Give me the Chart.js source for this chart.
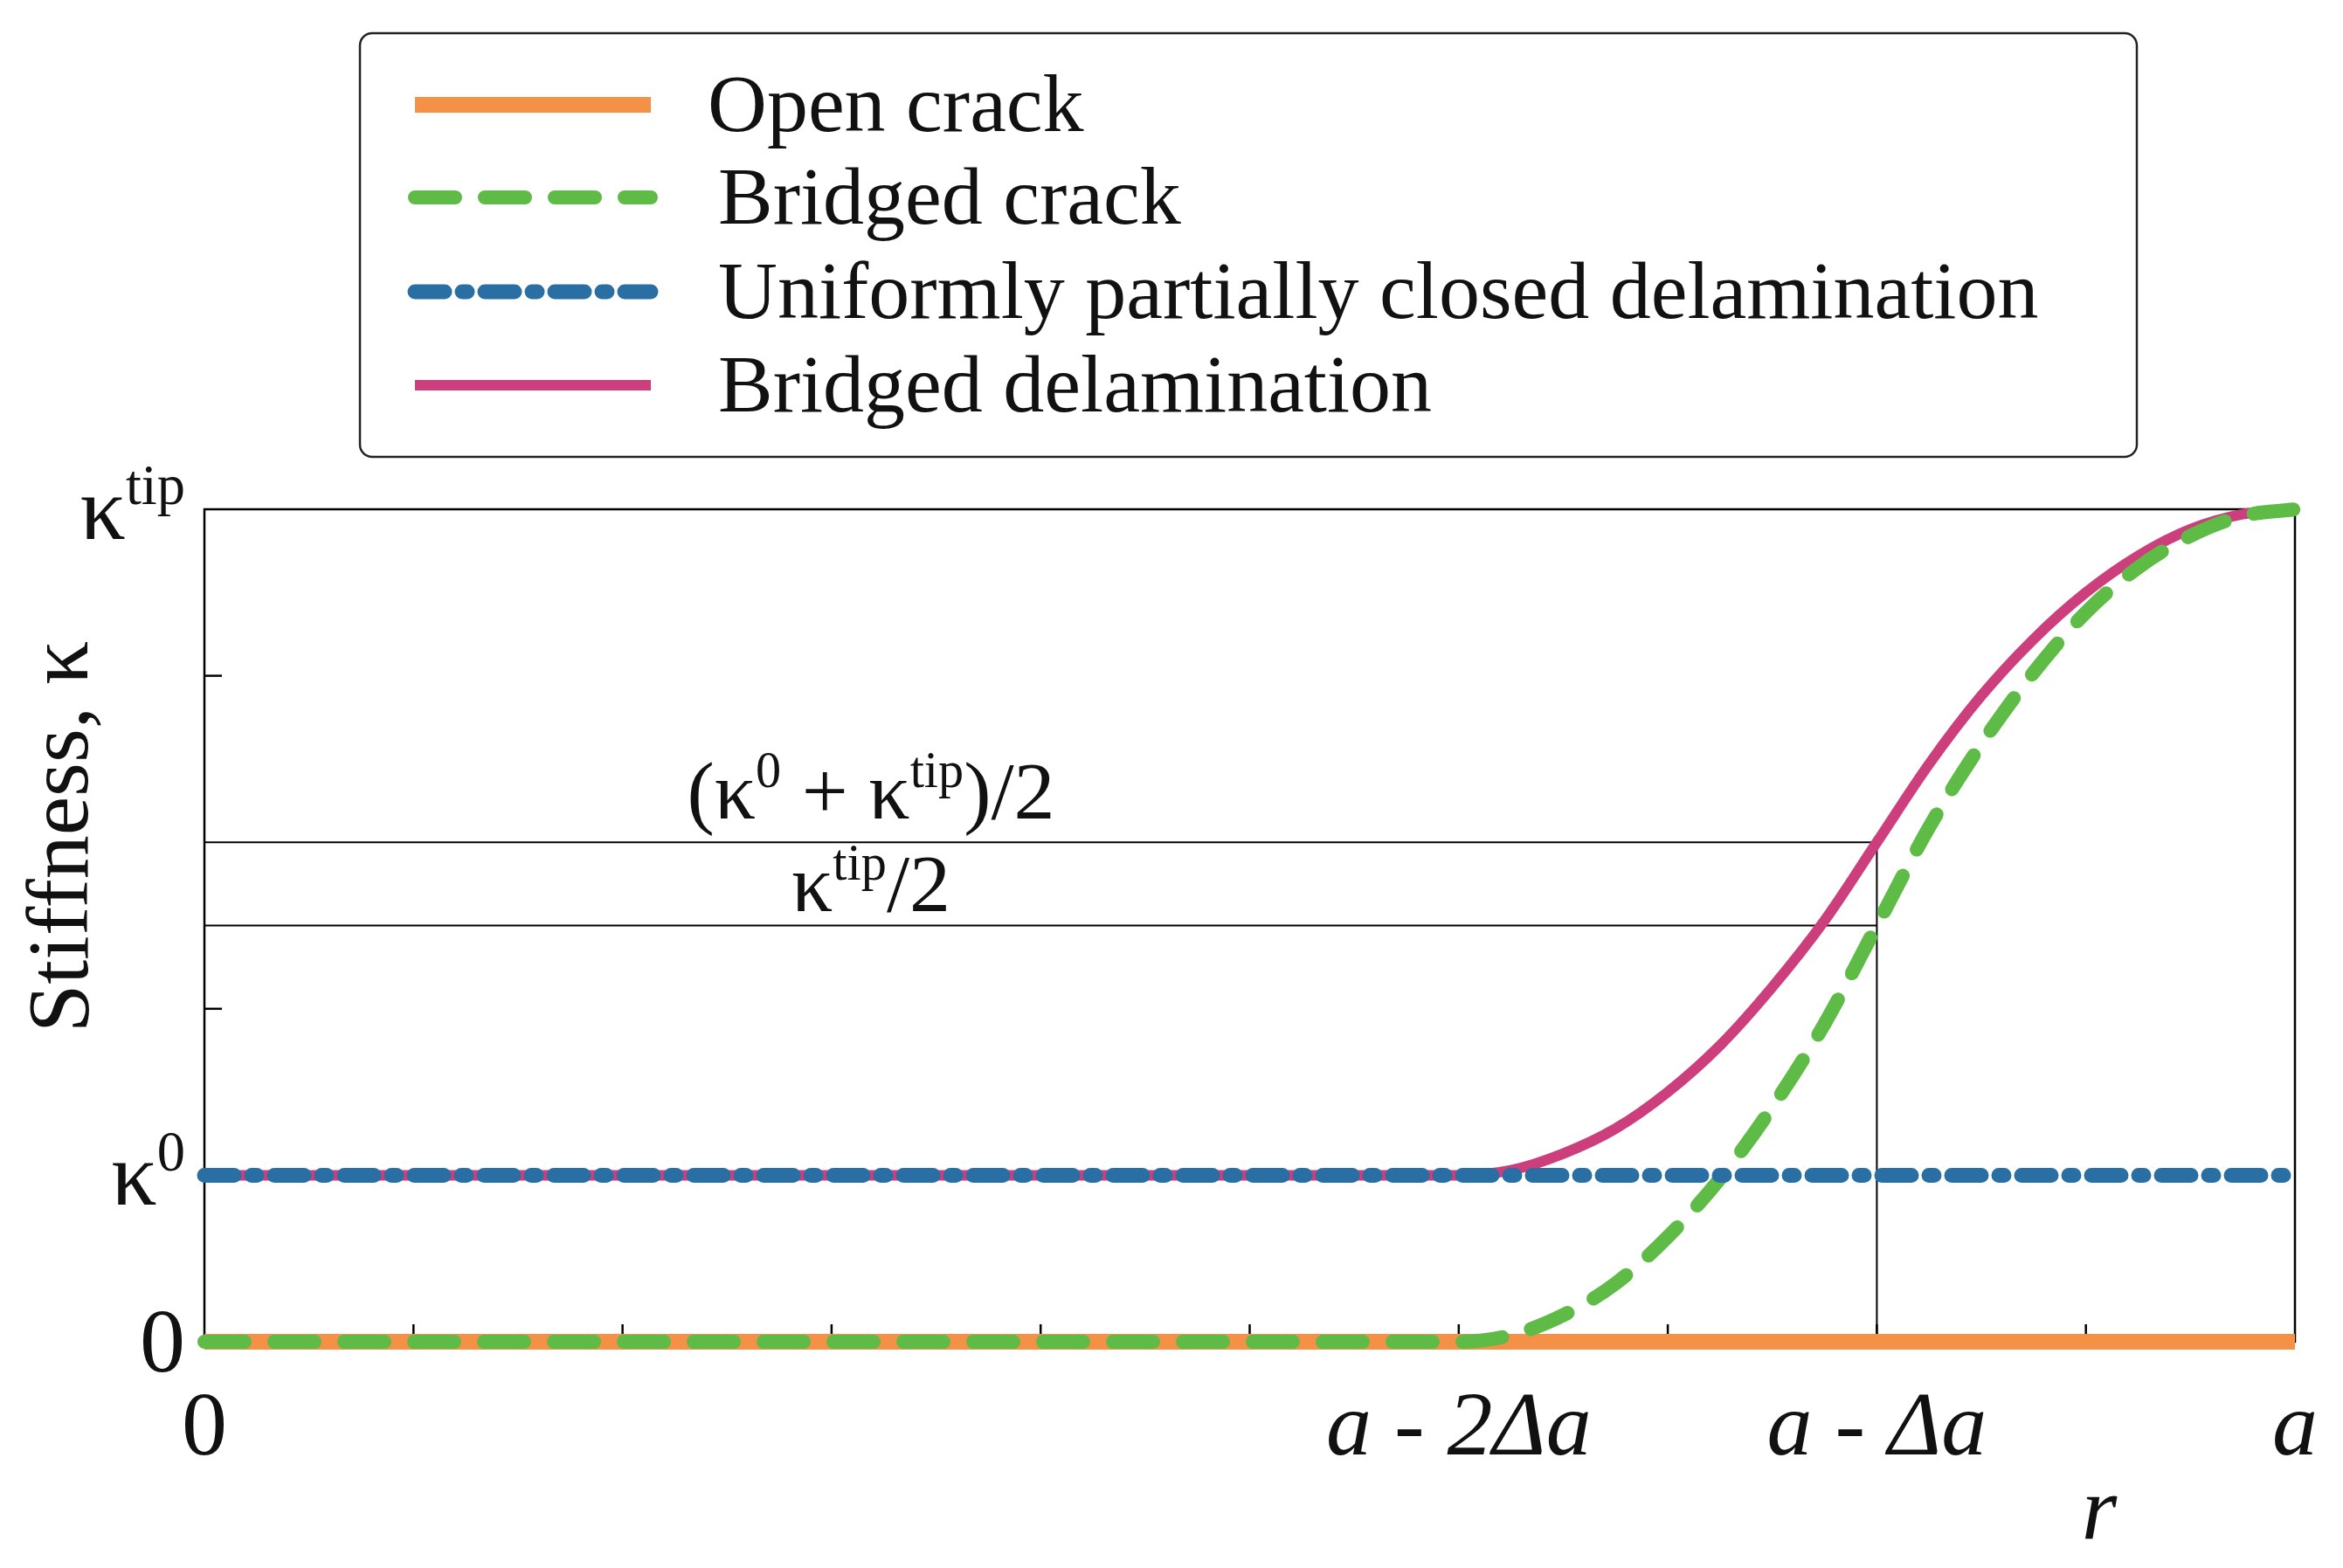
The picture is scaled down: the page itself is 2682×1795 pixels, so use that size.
<!DOCTYPE html>
<html><head><meta charset="utf-8">
<script src="https://cdn.jsdelivr.net/npm/chart.js@4"></script>
<style>html,body{margin:0;background:#fff}canvas{display:block}</style>
</head><body>
<canvas id="c" width="2682" height="1795"></canvas>
<script>
const seriesNames = ["Open crack","Bridged crack","Uniformly partially closed delamination","Bridged delamination"];
const flatX = [0, 10];
const openCrack = [0, 0];
const uniform = [1, 1];
const curveX = [0,6,6.25,6.5,6.75,7,7.25,7.5,7.75,8,8.25,8.5,8.75,9,9.25,9.5,9.75,10];
const bridgedCrack = [0,0,0.04,0.16,0.35,0.63,0.98,1.41,1.91,2.5,3.09,3.59,4.02,4.38,4.65,4.84,4.96,5];
const bridgedDelam = [1,1,1.03,1.13,1.28,1.5,1.78,2.13,2.53,3,3.47,3.88,4.22,4.5,4.72,4.88,4.97,5];
const xTickVals = [0,6,8,10];
const xTickLabels = ["0","a - 2Δa","a - Δa","a"];
const yTickVals = [0,1,5];
const yTickLabels = [["0",""],["κ","0"],["κ","tip"]];
const refLines = [3, 2.5];
const refX = 8;

const colors = ["#f59047","#5dbb46","#2a6fa4","#cc3f7c"];
const widths = [18,16,17,12];
const dashes = [[],[46,34],[34,20,6,20],[]];
const pts = (xs, ys) => xs.map((x,i)=>({x, y: ys[i]}));

function supText(ctx, parts, x, y, size, align){
  let w=0;
  const fs=(s)=>s?size*0.62:size;
  parts.forEach(p=>{ctx.font=fs(p[1])+'px "Liberation Serif"'; w+=ctx.measureText(p[0]).width;});
  let cx = align==='center'? x-w/2 : align==='right'? x-w : x;
  parts.forEach(p=>{ctx.font=fs(p[1])+'px "Liberation Serif"'; ctx.fillText(p[0], cx, p[1]? y-size*0.38 : y); cx+=ctx.measureText(p[0]).width;});
}

const deco = {
  id:'deco',
  beforeDatasetsDraw(chart){
    const {ctx, chartArea:a, scales:{x,y}} = chart;
    ctx.save();
    ctx.strokeStyle='#000'; ctx.lineWidth=2;
    refLines.forEach(v=>{ctx.beginPath();ctx.moveTo(a.left,y.getPixelForValue(v));ctx.lineTo(x.getPixelForValue(refX),y.getPixelForValue(v));ctx.stroke();});
    ctx.beginPath();ctx.moveTo(x.getPixelForValue(refX),y.getPixelForValue(0));ctx.lineTo(x.getPixelForValue(refX),y.getPixelForValue(refLines[0]));ctx.stroke();
    ctx.lineWidth=2.5;
    ctx.strokeRect(a.left,a.top,a.right-a.left,a.bottom-a.top);
    for(let v=1;v<10;v++){const px=x.getPixelForValue(v);ctx.beginPath();ctx.moveTo(px,a.bottom);ctx.lineTo(px,a.bottom-20);ctx.stroke();}
    [4,2].forEach(v=>{const py=y.getPixelForValue(v);ctx.beginPath();ctx.moveTo(a.left,py);ctx.lineTo(a.left+20,py);ctx.stroke();});
    ctx.restore();
  },
  afterDraw(chart){
    const {ctx, chartArea:a, scales:{x,y}} = chart;
    ctx.save();
    ctx.fillStyle='#111'; ctx.textBaseline='alphabetic';
    yTickVals.forEach((v,i)=>{const l=yTickLabels[i]; supText(ctx,[[l[0],0],[l[1],1]],a.left-22, y.getPixelForValue(v)+34, 104,'right');});
    xTickVals.forEach((v,i)=>{ctx.font=(i===0?'':'italic ')+'104px "Liberation Serif"';ctx.textAlign='center';ctx.fillText(xTickLabels[i], x.getPixelForValue(v), 1665);});
    ctx.font='italic 104px "Liberation Serif"'; ctx.fillText('r', 2403, 1762);
    ctx.textAlign='left';
    ctx.save(); ctx.translate(100, 958); ctx.rotate(-Math.PI/2); ctx.font='100px "Liberation Serif"'; ctx.textAlign='center'; ctx.fillText('Stiffness, κ',0,0); ctx.restore();
    supText(ctx,[["(κ",0],["0",1],[" + κ",0],["tip",1],[")/2",0]],997,937,94,'center');
    supText(ctx,[["κ",0],["tip",1],["/2",0]],997,1043,94,'center');
    ctx.fillStyle='#fff'; ctx.strokeStyle='#222'; ctx.lineWidth=2.5;
    ctx.beginPath(); ctx.roundRect(412,38,2034,485,14); ctx.fill(); ctx.stroke();
    const rows=[120,226,334,441];
    seriesNames.forEach((n,i)=>{
      ctx.strokeStyle=colors[i]; ctx.lineWidth=widths[i]; ctx.setLineDash(dashes[i]); ctx.lineCap=i===0||i===3?'butt':'round';
      ctx.beginPath(); ctx.moveTo(475,rows[i]); ctx.lineTo(745,rows[i]); ctx.stroke();
      ctx.setLineDash([]); ctx.fillStyle='#111'; ctx.font='94px "Liberation Serif"';
      ctx.fillText(n, i===0?810:822, rows[i]+30);
    });
    ctx.restore();
  }
};

new Chart(document.getElementById('c'), {
  type:'line',
  data:{datasets:[
    {label:seriesNames[0], data:pts(flatX,openCrack), borderColor:colors[0], borderWidth:widths[0], order:4, clip:false},
    {label:seriesNames[1], data:pts(curveX,bridgedCrack), borderColor:colors[1], borderWidth:widths[1], borderDash:dashes[1], borderCapStyle:'round', order:2, cubicInterpolationMode:'monotone', clip:false},
    {label:seriesNames[2], data:pts(flatX,uniform), borderColor:colors[2], borderWidth:widths[2], borderDash:dashes[2], borderCapStyle:'round', order:1, clip:false},
    {label:seriesNames[3], data:pts(curveX,bridgedDelam), borderColor:colors[3], borderWidth:widths[3], order:3, cubicInterpolationMode:'monotone', clip:false}
  ]},
  options:{
    responsive:false, animation:false, devicePixelRatio:1,
    elements:{point:{radius:0}},
    layout:{padding:{left:234,right:55,top:583,bottom:259}},
    plugins:{legend:{display:false},tooltip:{enabled:false}},
    scales:{
      x:{type:'linear',min:0,max:10,display:false},
      y:{min:0,max:5,display:false}
    }
  },
  plugins:[deco]
});
</script>
</body></html>
